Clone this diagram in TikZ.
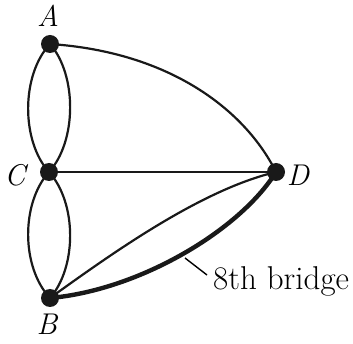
\documentclass[tikz,border=0pt]{standalone}
\begin{document}
\begin{tikzpicture}[x=1pt,y=-1pt,
  vtx/.style={circle,fill=black!90,inner sep=0pt,minimum size=18pt},
  lbl/.style={font=\fontsize{30}{34}\selectfont\itshape,inner sep=0pt},
  edge/.style={line width=2.2pt,black!90},
  thickedge/.style={line width=4.4pt,black!90}]
\useasboundingbox (0,0) rectangle (353,344);
\node[vtx] (A) at (50,44) {};
\node[vtx] (C) at (49,172) {};
\node[vtx] (B) at (50,298) {};
\node[vtx] (D) at (276,172) {};
\node[lbl] (lA) at (48,16) {A};
\node[lbl] (lC) at (15,175) {C};
\node[lbl] (lB) at (47,324) {B};
\node[lbl] (lD) at (298,175) {D};
\draw[edge] (A.center) .. controls (21,75) and (21,141) .. (C.center);
\draw[edge] (A.center) .. controls (77,75) and (77,141) .. (C.center);
\draw[edge] (C.center) .. controls (21,203) and (21,267) .. (B.center);
\draw[edge] (C.center) .. controls (77,203) and (77,267) .. (B.center);
\draw[edge] (A.center) .. controls (170,52) and (245,110) .. (D.center);
\draw[edge] (C.center) -- (D.center);
\draw[edge] (B.center) .. controls (110,255) and (200,190) .. (D.center);
\draw[thickedge] (B.center) .. controls (140,290) and (240,230) .. (D.center);
\coordinate (p1) at (185,258);
\coordinate (p2) at (207,275);
\node[font=\fontsize{33}{38}\selectfont,anchor=west,inner sep=0pt] (bl) at (213,281) {8th bridge};
\draw[line width=1.4pt] (p1) -- (p2);
\end{tikzpicture}
\end{document}
